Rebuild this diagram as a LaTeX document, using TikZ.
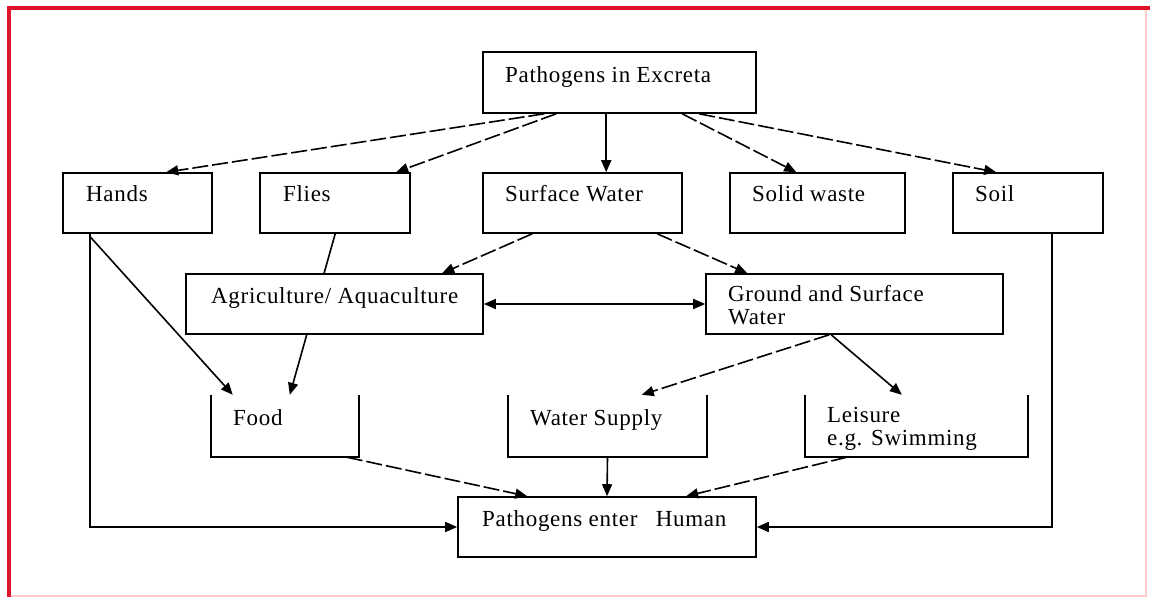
\documentclass[tikz,border=0pt]{standalone}
\usepackage{fontspec}
\setmainfont{Liberation Serif}
\usetikzlibrary{arrows.meta}
\pgfdeclarelayer{bg}
\pgfsetlayers{bg,main}
\definecolor{frame}{RGB}{222,20,40}
\begin{document}
\begin{tikzpicture}[x=1pt,y=-1pt,
  box/.style={draw, line width=1.6pt, fill=white, inner sep=0pt},
  openbox/.style={inner sep=0pt},
  lbl/.style={anchor=base west, inner sep=0pt, font=\fontsize{23}{23}\selectfont\addfontfeature{LetterSpace=3}},
  conn/.style={line width=1.6pt, -{Triangle[length=12pt,width=10pt]}},
  dconn/.style={conn, dash pattern=on 16pt off 4pt},
]
\useasboundingbox (0,0) rectangle (1152,598);
\begin{pgfonlayer}{bg}
\fill[white] (0,0) rectangle (1152,598);
\end{pgfonlayer}
% frame
\draw[red!20, line width=2pt] (1146,7) -- (1146,596) -- (9,596);
\draw[frame, line width=3.5pt] (9,597) -- (9,8) -- (1150,8);

% boxes
\node[box, minimum width=273pt, minimum height=61pt] (excreta) at (619.5,82.5) {};
\node[box, minimum width=149pt, minimum height=60pt] (hands) at (137.5,203) {};
\node[box, minimum width=150pt, minimum height=60pt] (flies) at (335,203) {};
\node[box, minimum width=199pt, minimum height=60pt] (surf) at (582.5,203) {};
\node[box, minimum width=175pt, minimum height=60pt] (solid) at (817.5,203) {};
\node[box, minimum width=150pt, minimum height=60pt] (soil) at (1028,203) {};
\node[box, minimum width=297pt, minimum height=60pt] (agri) at (334.5,304) {};
\node[box, minimum width=297pt, minimum height=60pt] (ground) at (854.5,304) {};
\node[openbox, minimum width=148pt, minimum height=62pt] (food) at (285,426) {};
\node[openbox, minimum width=199pt, minimum height=62pt] (water) at (607.5,426) {};
\node[openbox, minimum width=223pt, minimum height=62pt] (leisure) at (916.5,426) {};
\node[box, minimum width=298pt, minimum height=60pt] (human) at (607,527) {};

\foreach \n in {food,water,leisure}
  \draw[line width=1.6pt] (\n.north west) |- (\n.south east) -- (\n.north east);

% labels
\node[lbl] (excretaT) at (505,82) {Pathogens in Excreta};
\node[lbl] (handsT) at (86,201) {Hands};
\node[lbl] (fliesT) at (283,201) {Flies};
\node[lbl] (surfT) at (505,201) {Surface Water};
\node[lbl] (solidT) at (752,201) {Solid waste};
\node[lbl] (soilT) at (975,201) {Soil};
\node[lbl] (agriT) at (211,303) {Agriculture/ Aquaculture};
\node[lbl] (groundT) at (728,301) {Ground and Surface};
\node[lbl] (groundT2) at (728,324) {Water};
\node[lbl] (foodT) at (233,425) {Food};
\node[lbl] (waterT) at (530,425) {Water Supply};
\node[lbl] (leisureT) at (827,422) {Leisure};
\node[lbl] (leisureT2) at (827,445) {e.g. Swimming};
\node[lbl] (humanT) at (482,526) {Pathogens enter\hspace{0.8em}Human};

% connectors
\begin{pgfonlayer}{bg}
\draw[conn] ([xshift=76pt]flies.south west) -- ([xshift=79pt]food.north west);
\end{pgfonlayer}
\draw[dconn] ([xshift=62pt]excreta.south west) -- ([xshift=104pt]hands.north west);
\draw[dconn] ([xshift=74pt]excreta.south west) -- ([xshift=137pt]flies.north west);
\draw[conn] ([xshift=124pt]excreta.south west) -- ([xshift=124pt]surf.north west);
\draw[dconn] ([xshift=200pt]excreta.south west) -- ([xshift=67pt]solid.north west);
\draw[dconn] ([xshift=217pt]excreta.south west) -- ([xshift=44pt]soil.north west);
\draw[dconn] ([xshift=50pt]surf.south west) -- ([xshift=257pt]agri.north west);
\draw[dconn] ([xshift=175pt]surf.south west) -- ([xshift=42pt]ground.north west);
\draw[conn, {Triangle[length=12pt,width=10pt]}-{Triangle[length=12pt,width=10pt]}] (agri.east) -- (ground.west);
\draw[dconn] ([xshift=124pt]ground.south west) -- ([xshift=134pt]water.north west);
\draw[conn] ([xshift=126pt]ground.south west) -- ([xshift=97pt]leisure.north west);
\draw[conn] ([xshift=28pt,yshift=-3pt]hands.south west) -- ([xshift=22pt]food.north west);
\draw[conn] ([xshift=28pt]hands.south west) |- (human.west);
\draw[conn] ([xshift=100pt]soil.south west) |- (human.east);
\draw[dconn] ([xshift=136pt]food.south west) -- ([xshift=70pt]human.north west);
\draw[conn] (water.south) -- (human.north);
\draw[dconn] ([xshift=42pt]leisure.south west) -- ([xshift=229pt]human.north west);
\end{tikzpicture}
\end{document}
